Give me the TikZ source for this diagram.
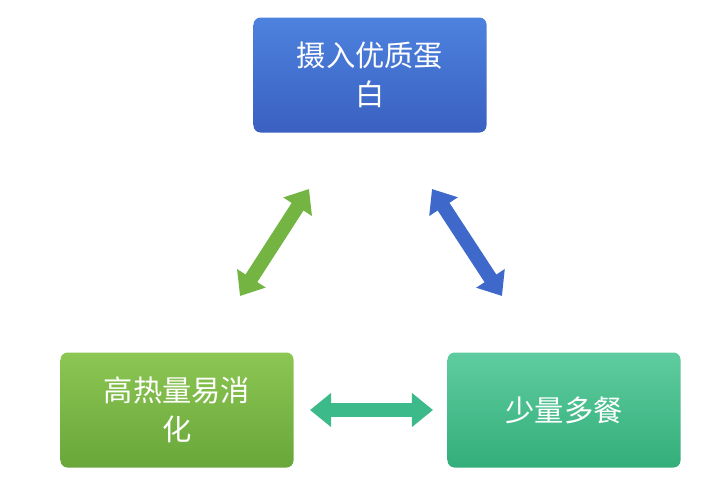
\documentclass[tikz,border=0pt]{standalone}
\usepackage{fontspec}
\newfontfamily\cjk{Noto Sans CJK SC}
\usetikzlibrary{arrows.meta}
\definecolor{bluetop}{HTML}{4D82DE}
\definecolor{bluebot}{HTML}{3A60C2}
\definecolor{greentop}{HTML}{8CC653}
\definecolor{greenbot}{HTML}{69A73A}
\definecolor{tealtop}{HTML}{5FCC9F}
\definecolor{tealbot}{HTML}{33AE7A}
\definecolor{greenarrow}{HTML}{74B443}
\definecolor{bluearrow}{HTML}{3E69CB}
\definecolor{tealarrow}{HTML}{3DBA8A}
\tikzset{
  box/.style={rounded corners=6pt, minimum width=6.99cm, minimum height=3.45cm,
    align=center, text=white, font=\cjk\fontsize{25}{33}\selectfont},
  dblarrow/.style={line width=12pt, {Triangle[width=28pt,length=18pt]}-{Triangle[width=28pt,length=18pt]}}
}
\begin{document}
\begin{tikzpicture}[x=0.03cm, y=-0.03cm]
    \useasboundingbox (0,0) rectangle (720,496);

    % draw boxes
    \node[box, top color=bluetop, bottom color=bluebot] (protein) at (370,75) {摄入优质蛋\\白};
    \node[box, top color=greentop, bottom color=greenbot] (energy) at (177,410) {高热量易消\\化};
    \node[box, top color=tealtop, bottom color=tealbot] (meals) at (564,410) {少量多餐};

    % draw arrows
    \coordinate (g1) at (240,296);
    \coordinate (g2) at (309,189);
    \coordinate (b1) at (432,189);
    \coordinate (b2) at (502,296);
    \coordinate (t1) at (310,410);
    \coordinate (t2) at (433,410);
    \draw[dblarrow, greenarrow] (g1) -- (g2);
    \draw[dblarrow, bluearrow] (b1) -- (b2);
    \draw[dblarrow, tealarrow] (t1) -- (t2);
\end{tikzpicture}
\end{document}
